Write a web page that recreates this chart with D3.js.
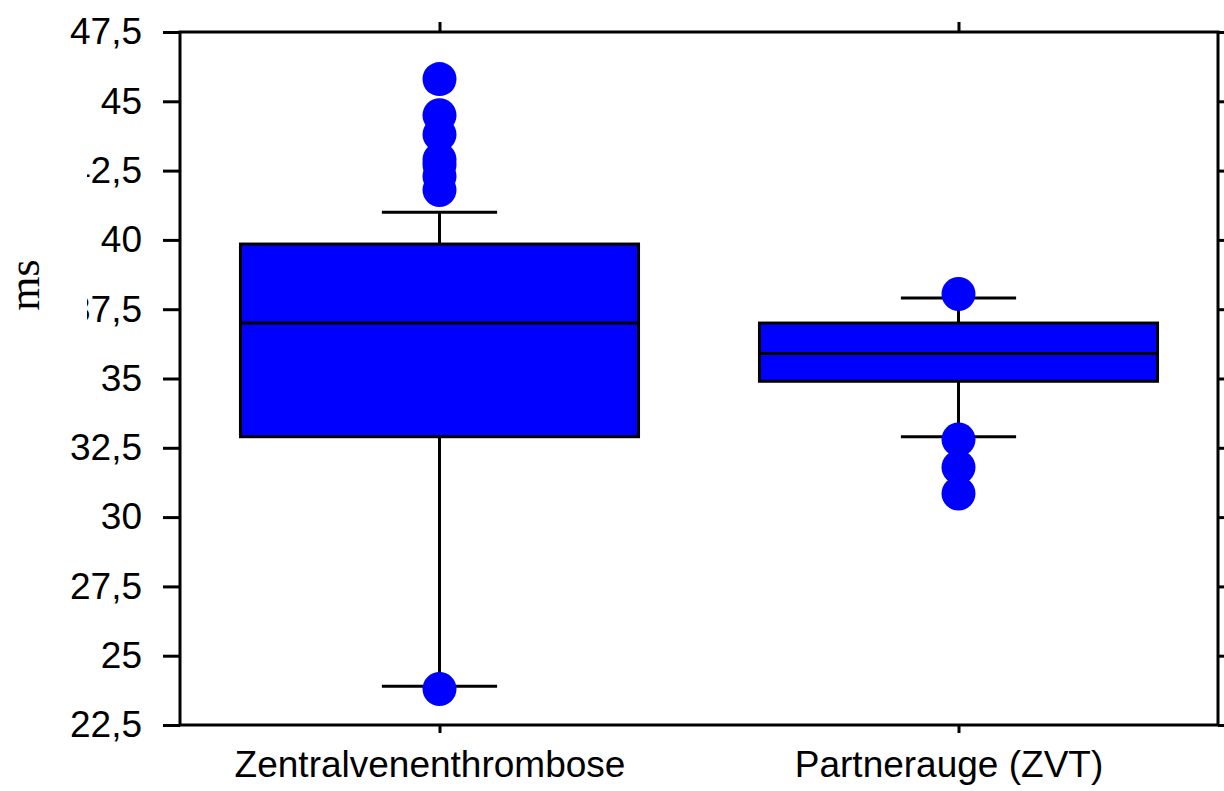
<!DOCTYPE html>
<html>
<head>
<meta charset="utf-8">
<script src="https://cdn.jsdelivr.net/npm/d3@7"></script>
<style>
  html, body { margin: 0; padding: 0; background: #fff; }
  svg { display: block; }
</style>
</head>
<body>
<svg id="chart" width="1224" height="791"></svg>
<script>
// Group names
const categories = ["Zentralvenenthrombose", "Partnerauge (ZVT)"];
// Box statistics per group: lower whisker, Q1, median, Q3, upper whisker (ms)
const whiskerLow = [23.9, 32.9];
const q1Values   = [32.9, 34.9];
const medians    = [37.0, 35.9];
const q3Values   = [39.85, 37.0];
const whiskerHigh = [41.0, 37.9];
// Outliers per group (ms)
const outliersZVT = [45.8, 44.5, 43.8, 42.9, 42.7, 42.3, 41.8, 23.8];
const outliersPartner = [38.05, 32.8, 31.8, 30.85];
// Y axis ticks
const yTicks = [22.5, 25, 27.5, 30, 32.5, 35, 37.5, 40, 42.5, 45, 47.5];
const yDomain = [22.5, 47.5];

const W = 1224, H = 791;
const margin = { top: 32, right: 6, bottom: 66, left: 180 };
const svg = d3.select("#chart");
const fontSans = "Arial, 'Liberation Sans', sans-serif";

const x = d3.scalePoint().domain(categories)
  .range([margin.left, W - margin.right]).padding(0.5);
const y = d3.scaleLinear().domain(yDomain).range([H - margin.bottom, margin.top]);

const step = x.step();
const boxW = step * 0.767;
const capW = step * 0.222;
const fmt = d => d3.format(".1f")(d).replace(/\.0$/, "").replace(".", ",");

const groups = categories.map((c, i) => ({
  cat: c,
  lo: whiskerLow[i], q1: q1Values[i], med: medians[i], q3: q3Values[i], hi: whiskerHigh[i],
  out: i === 0 ? outliersZVT : outliersPartner
}));

// Axes (tick marks and labels)
const yAxisL = d3.axisLeft(y).tickValues(yTicks).tickSize(17).tickPadding(21).tickFormat(fmt);
const gL = svg.append("g").attr("transform", `translate(${margin.left},0)`).call(yAxisL);
const yAxisR = d3.axisRight(y).tickValues(yTicks).tickSize(17).tickFormat("");
const gR = svg.append("g").attr("transform", `translate(${W - margin.right},0)`).call(yAxisR);
const xAxisB = d3.axisBottom(x).tickSize(8).tickPadding(18);
const gB = svg.append("g").attr("transform", `translate(0,${H - margin.bottom})`).call(xAxisB);
const xAxisT = d3.axisTop(x).tickSize(10).tickFormat("");
const gT = svg.append("g").attr("transform", `translate(0,${margin.top})`).call(xAxisT);

[gL, gR, gB, gT].forEach(g => {
  g.select(".domain").remove();
  g.selectAll(".tick line").attr("stroke", "#000").attr("stroke-width", 3);
  g.selectAll(".tick text").attr("fill", "#000")
    .style("font-family", fontSans).style("font-size", "37px");
});
gB.selectAll(".tick text").attr("dx", "-10");

// Frame
svg.append("rect")
  .attr("x", margin.left).attr("y", margin.top)
  .attr("width", W - margin.right - margin.left)
  .attr("height", H - margin.bottom - margin.top)
  .attr("fill", "none").attr("stroke", "#000").attr("stroke-width", 3);

// Boxes
const gBox = svg.append("g");
groups.forEach(g => {
  const cx = x(g.cat);
  // whisker stems
  gBox.append("line").attr("x1", cx).attr("x2", cx).attr("y1", y(g.q3)).attr("y2", y(g.hi))
    .attr("stroke", "#000").attr("stroke-width", 3);
  gBox.append("line").attr("x1", cx).attr("x2", cx).attr("y1", y(g.q1)).attr("y2", y(g.lo))
    .attr("stroke", "#000").attr("stroke-width", 3);
  // whisker caps
  [g.hi, g.lo].forEach(v => {
    gBox.append("line").attr("x1", cx - capW / 2).attr("x2", cx + capW / 2)
      .attr("y1", y(v)).attr("y2", y(v)).attr("stroke", "#000").attr("stroke-width", 3);
  });
  // box
  gBox.append("rect").attr("x", cx - boxW / 2).attr("y", y(g.q3))
    .attr("width", boxW).attr("height", y(g.q1) - y(g.q3))
    .attr("fill", "#0000ff").attr("stroke", "#000").attr("stroke-width", 3);
  // median
  gBox.append("line").attr("x1", cx - boxW / 2).attr("x2", cx + boxW / 2)
    .attr("y1", y(g.med)).attr("y2", y(g.med)).attr("stroke", "#000").attr("stroke-width", 3);
  // outliers
  gBox.selectAll(null).data(g.out).enter().append("circle")
    .attr("cx", cx).attr("cy", d => y(d)).attr("r", 17).attr("fill", "#0000ff");
});

// Y axis title with its background box
svg.append("rect").attr("x", 0).attr("y", 150).attr("width", 87).attr("height", 180).attr("fill", "#fff");
svg.append("text")
  .attr("transform", `translate(39,285) rotate(-90)`)
  .attr("text-anchor", "middle")
  .style("font-family", "'Times New Roman', 'Liberation Serif', serif")
  .style("font-size", "44px")
  .text("ms");
</script>
</body>
</html>
